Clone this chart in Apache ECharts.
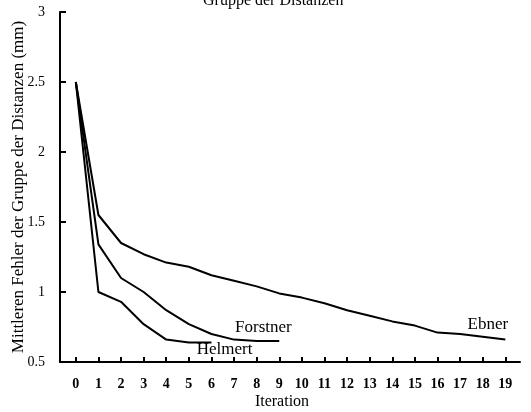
<!DOCTYPE html>
<html>
<head>
<meta charset="utf-8">
<script src="https://cdn.jsdelivr.net/npm/echarts@6/dist/echarts.min.js"></script>
<style>
  html, body { margin: 0; padding: 0; background: #fff; }
  #chart { width: 531px; height: 412px; }
</style>
</head>
<body>
<div id="chart"></div>
<script>
// Iterationen 0..19
const iterations = [0, 1, 2, 3, 4, 5, 6, 7, 8, 9, 10, 11, 12, 13, 14, 15, 16, 17, 18, 19]
const ebner = [2.5, 1.55, 1.35, 1.27, 1.21, 1.18, 1.12, 1.08, 1.04, 0.99, 0.96, 0.92, 0.87, 0.83, 0.79, 0.76, 0.71, 0.70, 0.68, 0.66]
const forstner = [2.5, 1.34, 1.10, 1.0, 0.87, 0.77, 0.70, 0.66, 0.65, 0.65]
const helmert = [2.5, 1.0, 0.93, 0.77, 0.66, 0.64, 0.64]
const yTicks = [0.5, 1, 1.5, 2, 2.5, 3]

const font = 'Liberation Serif'
const toPairs = arr => arr.map((v, i) => [iterations[i], v])

const lineSeries = (name, data, labelAt) => ({
  name,
  type: 'line',
  data: toPairs(data),
  showSymbol: false,
  lineStyle: { color: '#000', width: 2 },
  animation: false,
  markPoint: {
    symbol: 'circle',
    symbolSize: 1,
    itemStyle: { color: 'transparent' },
    label: {
      show: true,
      position: 'inside',
      formatter: name,
      color: '#000',
      fontFamily: font,
      fontSize: 17
    },
    data: [{ coord: labelAt }]
  }
})

const chart = echarts.init(document.getElementById('chart'))
chart.setOption({
  backgroundColor: '#fff',
  title: {
    text: 'Gruppe der Distanzen',
    left: 203,
    top: -7,
    padding: 0,
    textStyle: { fontFamily: font, fontSize: 16, fontWeight: 'normal', color: '#000' }
  },
  grid: { left: 60, right: 11, top: 12, bottom: 50, outerBoundsMode: 'none', containLabel: false },
  xAxis: {
    type: 'value',
    min: -0.7,
    max: 19.65,
    name: 'Iteration',
    nameLocation: 'middle',
    nameGap: 32,
    nameMoveOverlap: false,
    nameTextStyle: { fontFamily: font, fontSize: 16, color: '#000', padding: [0, 16, 0, 0] },
    splitLine: { show: false },
    axisLine: { onZero: false, lineStyle: { color: '#000', width: 2 } },
    axisTick: { inside: true, length: 5, customValues: iterations, lineStyle: { color: '#000', width: 2 } },
    axisLabel: {
      customValues: iterations,
      margin: 15,
      fontFamily: font,
      fontSize: 14,
      fontWeight: 'bold',
      color: '#000'
    }
  },
  yAxis: {
    type: 'value',
    min: 0.5,
    max: 3,
    interval: 0.5,
    name: 'Mittleren Fehler der Gruppe der Distanzen (mm)',
    nameLocation: 'middle',
    nameGap: 33,
    nameMoveOverlap: false,
    nameTextStyle: { fontFamily: font, fontSize: 17, color: '#000' },
    splitLine: { show: false },
    axisLine: { show: true, onZero: false, lineStyle: { color: '#000', width: 2 } },
    axisTick: { show: true, inside: true, length: 6, lineStyle: { color: '#000', width: 2 } },
    axisLabel: {
      margin: 15,
      fontFamily: font,
      fontSize: 14,
      color: '#000',
      formatter: v => (yTicks.includes(v) ? String(v) : '')
    }
  },
  series: [
    lineSeries('Ebner', ebner, [18.23, 0.77]),
    lineSeries('Forstner', forstner, [8.3, 0.743]),
    lineSeries('Helmert', helmert, [6.58, 0.586])
  ]
})
</script>
</body>
</html>
